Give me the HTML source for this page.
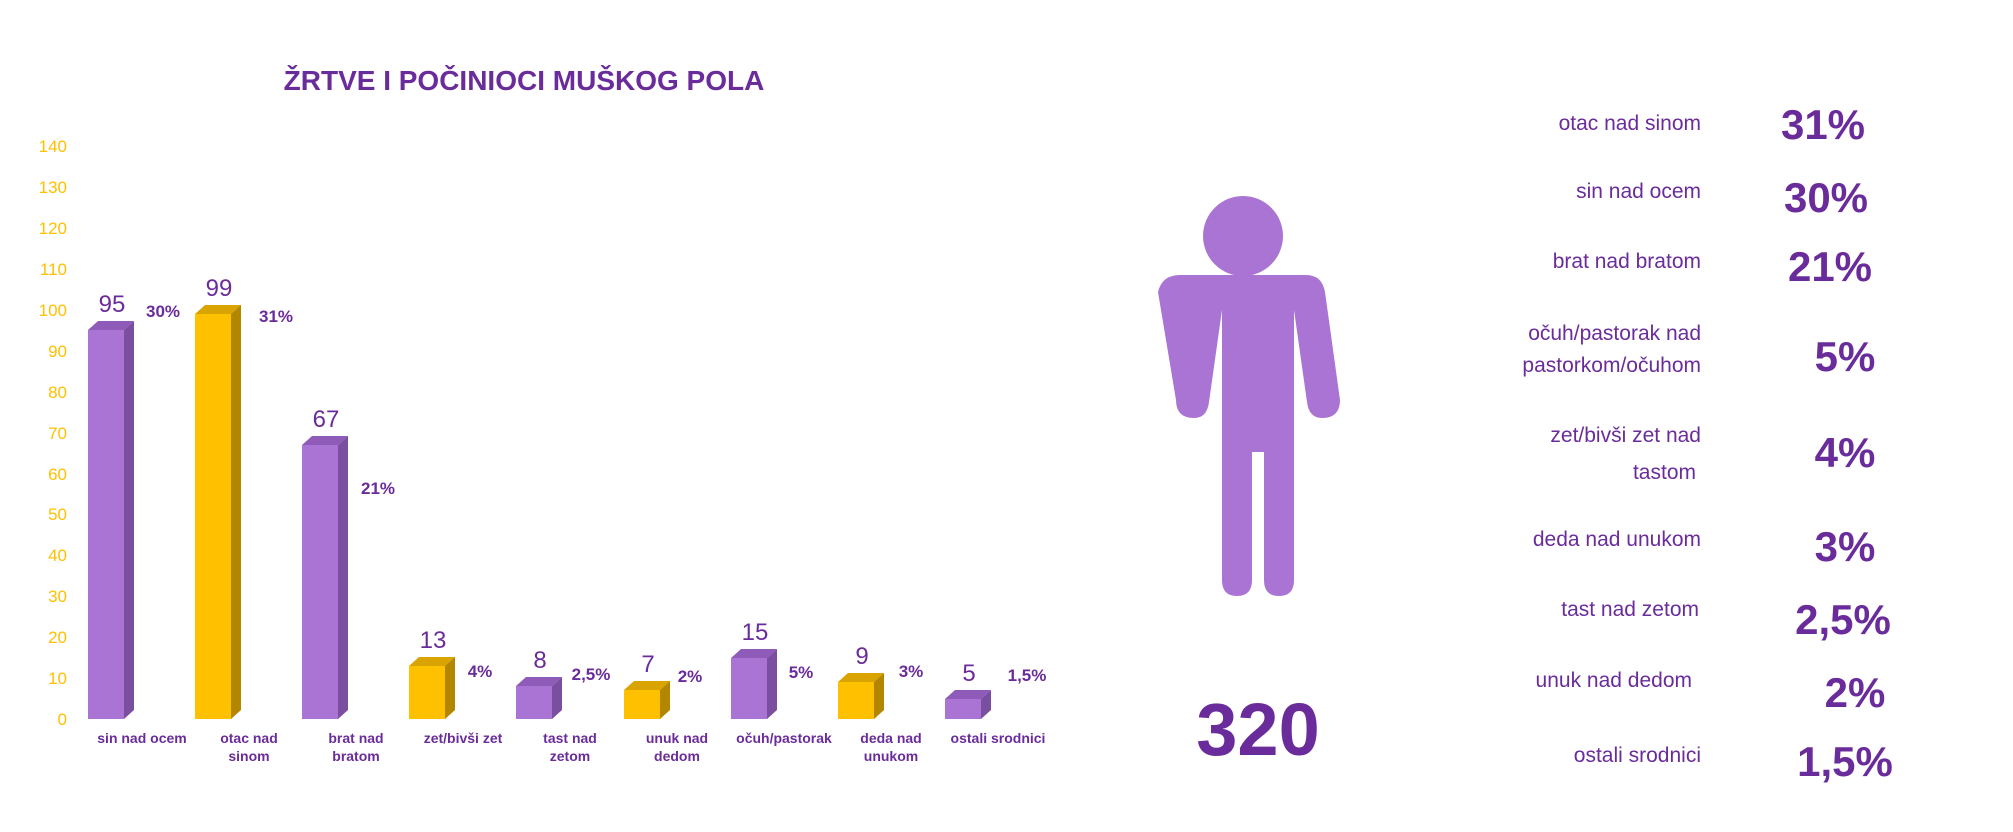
<!DOCTYPE html>
<html><head><meta charset="utf-8"><style>
html,body{margin:0;padding:0;background:#fff;}
svg{display:block;}
text{font-family:"Liberation Sans",sans-serif;}
</style></head><body>
<svg width="2013" height="832" viewBox="0 0 2013 832" xmlns="http://www.w3.org/2000/svg">
<rect width="2013" height="832" fill="#fff"/>
<text x="524" y="90" text-anchor="middle" font-size="28" font-weight="bold" fill="#6a2c9a">ŽRTVE I POČINIOCI MUŠKOG POLA</text>
<g font-size="17" fill="#ffc000" text-anchor="end">
<text x="67" y="152">140</text><text x="67" y="193">130</text><text x="67" y="234">120</text><text x="67" y="275">110</text><text x="67" y="316">100</text><text x="67" y="357">90</text><text x="67" y="398">80</text><text x="67" y="439">70</text><text x="67" y="480">60</text><text x="67" y="520">50</text><text x="67" y="561">40</text><text x="67" y="602">30</text><text x="67" y="643">20</text><text x="67" y="684">10</text><text x="67" y="725">0</text>
</g>
<!-- bar 1 purple 95 -->
<polygon points="88,330 98,321 134,321 124,330" fill="#8e5cb8"/>
<polygon points="124,330 134,321 134,710 124,719" fill="#7b4fa0"/>
<rect x="88" y="330" width="36" height="389" fill="#a974d4"/>
<!-- bar 2 yellow 99 -->
<polygon points="195,314 205,305 241,305 231,314" fill="#d9a300"/>
<polygon points="231,314 241,305 241,710 231,719" fill="#b38600"/>
<rect x="195" y="314" width="36" height="405" fill="#ffc000"/>
<!-- bar 3 purple 67 -->
<polygon points="302,445 312,436 348,436 338,445" fill="#8e5cb8"/>
<polygon points="338,445 348,436 348,710 338,719" fill="#7b4fa0"/>
<rect x="302" y="445" width="36" height="274" fill="#a974d4"/>
<!-- bar 4 yellow 13 -->
<polygon points="409,666 419,657 455,657 445,666" fill="#d9a300"/>
<polygon points="445,666 455,657 455,710 445,719" fill="#b38600"/>
<rect x="409" y="666" width="36" height="53" fill="#ffc000"/>
<!-- bar 5 purple 8 -->
<polygon points="516,686 526,677 562,677 552,686" fill="#8e5cb8"/>
<polygon points="552,686 562,677 562,710 552,719" fill="#7b4fa0"/>
<rect x="516" y="686" width="36" height="33" fill="#a974d4"/>
<!-- bar 6 yellow 7 -->
<polygon points="624,690 634,681 670,681 660,690" fill="#d9a300"/>
<polygon points="660,690 670,681 670,710 660,719" fill="#b38600"/>
<rect x="624" y="690" width="36" height="29" fill="#ffc000"/>
<!-- bar 7 purple 15 -->
<polygon points="731,658 741,649 777,649 767,658" fill="#8e5cb8"/>
<polygon points="767,658 777,649 777,710 767,719" fill="#7b4fa0"/>
<rect x="731" y="658" width="36" height="61" fill="#a974d4"/>
<!-- bar 8 yellow 9 -->
<polygon points="838,682 848,673 884,673 874,682" fill="#d9a300"/>
<polygon points="874,682 884,673 884,710 874,719" fill="#b38600"/>
<rect x="838" y="682" width="36" height="37" fill="#ffc000"/>
<!-- bar 9 purple 5 -->
<polygon points="945,699 955,690 991,690 981,699" fill="#8e5cb8"/>
<polygon points="981,699 991,690 991,710 981,719" fill="#7b4fa0"/>
<rect x="945" y="699" width="36" height="20" fill="#a974d4"/>
<g font-size="24" fill="#6a2c9a" text-anchor="middle">
<text x="112" y="312">95</text><text x="219" y="296">99</text><text x="326" y="427">67</text><text x="433" y="648">13</text><text x="540" y="668">8</text><text x="648" y="672">7</text><text x="755" y="640">15</text><text x="862" y="664">9</text><text x="969" y="681">5</text>
</g>
<g font-size="17" font-weight="bold" fill="#6a2c9a" text-anchor="middle">
<text x="163" y="317">30%</text><text x="276" y="322">31%</text><text x="378" y="494">21%</text><text x="480" y="677">4%</text><text x="591" y="680">2,5%</text><text x="690" y="682">2%</text><text x="801" y="678">5%</text><text x="911" y="677">3%</text><text x="1027" y="681">1,5%</text>
</g>
<g font-size="14" font-weight="bold" fill="#6a2c9a" text-anchor="middle">
<text x="142" y="743">sin nad ocem</text>
<text x="249" y="743">otac nad</text><text x="249" y="761">sinom</text>
<text x="356" y="743">brat nad</text><text x="356" y="761">bratom</text>
<text x="463" y="743">zet/bivši zet</text>
<text x="570" y="743">tast nad</text><text x="570" y="761">zetom</text>
<text x="677" y="743">unuk nad</text><text x="677" y="761">dedom</text>
<text x="784" y="743">očuh/pastorak</text>
<text x="891" y="743">deda nad</text><text x="891" y="761">unukom</text>
<text x="998" y="743">ostali srodnici</text>
</g>
<!-- person -->
<g fill="#a974d4">
<circle cx="1243" cy="236" r="40"/>
<path d="M1180,275 L1306,275 Q1322,275 1325,292 L1340,400 Q1340,418 1322,418 Q1309,418 1307,402 L1294,310 L1294,580 Q1294,596 1279,596 Q1264,596 1264,580 L1264,452 L1252,452 L1252,580 Q1252,596 1237,596 Q1222,596 1222,580 L1222,310 L1209,402 Q1207,418 1194,418 Q1176,418 1176,400 L1158,292 Q1162,275 1180,275 Z"/>
</g>
<text x="1258" y="755" text-anchor="middle" font-size="74" font-weight="bold" fill="#6a2c9a">320</text>
<g font-size="21" fill="#6a2c9a" text-anchor="end">
<text x="1701" y="130">otac nad sinom</text>
<text x="1701" y="198">sin nad ocem</text>
<text x="1701" y="268">brat nad bratom</text>
<text x="1701" y="340">očuh/pastorak nad</text>
<text x="1701" y="372">pastorkom/očuhom</text>
<text x="1701" y="442">zet/bivši zet nad</text>
<text x="1696" y="479">tastom</text>
<text x="1701" y="546">deda nad unukom</text>
<text x="1699" y="616">tast nad zetom</text>
<text x="1692" y="687">unuk nad dedom</text>
<text x="1701" y="762">ostali srodnici</text>
</g>
<g font-size="42" font-weight="bold" fill="#6a2c9a" text-anchor="middle">
<text x="1823" y="139">31%</text>
<text x="1826" y="212">30%</text>
<text x="1830" y="281">21%</text>
<text x="1845" y="371">5%</text>
<text x="1845" y="467">4%</text>
<text x="1845" y="561">3%</text>
<text x="1843" y="634">2,5%</text>
<text x="1855" y="707">2%</text>
<text x="1845" y="776">1,5%</text>
</g>
</svg>
</body></html>
